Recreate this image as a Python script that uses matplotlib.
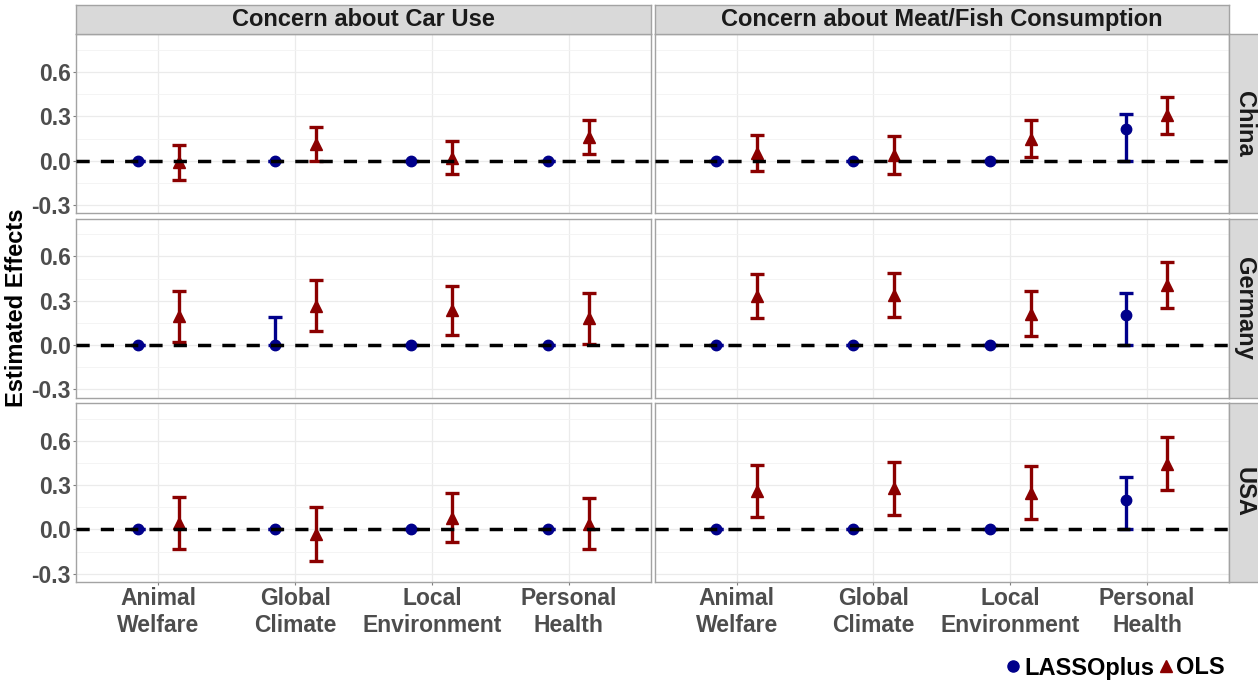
import numpy as np
import matplotlib
matplotlib.use("Agg")
import matplotlib.pyplot as plt
from matplotlib.lines import Line2D

# facet labels and categories
categories = ["Animal\nWelfare", "Global\nClimate", "Local\nEnvironment", "Personal\nHealth"]
countries = ["China", "Germany", "USA"]
concerns = ["Concern about Car Use", "Concern about Meat/Fish Consumption"]
y_ticks = [-0.3, 0.0, 0.3, 0.6]
y_tick_labels = ["-0.3", "0.0", "0.3", "0.6"]

# OLS estimates, rows = China, Germany, USA
ols_car_est = [[-0.010, 0.115, 0.020, 0.160],
               [0.195, 0.265, 0.235, 0.180],
               [0.044, -0.034, 0.080, 0.037]]
ols_car_lo = [[-0.130, 0.000, -0.092, 0.049],
              [0.020, 0.092, 0.067, 0.007],
              [-0.131, -0.217, -0.088, -0.135]]
ols_car_hi = [[0.108, 0.227, 0.133, 0.276],
              [0.369, 0.438, 0.402, 0.353],
              [0.219, 0.149, 0.248, 0.210]]

ols_meat_est = [[0.050, 0.040, 0.150, 0.310],
                [0.330, 0.338, 0.210, 0.405],
                [0.257, 0.277, 0.248, 0.445]]
ols_meat_lo = [[-0.072, -0.088, 0.025, 0.184],
               [0.182, 0.191, 0.061, 0.252],
               [0.081, 0.097, 0.068, 0.264]]
ols_meat_hi = [[0.173, 0.169, 0.274, 0.431],
               [0.479, 0.485, 0.364, 0.560],
               [0.433, 0.458, 0.429, 0.625]]

# LASSOplus estimates (lower bound is zero everywhere)
lasso_car_est = [[0.0, 0.0, 0.0, 0.0],
                 [0.0, 0.0, 0.0, 0.0],
                 [0.0, 0.0, 0.0, 0.0]]
lasso_car_lo = [[0.0, 0.0, 0.0, 0.0],
                [0.0, 0.0, 0.0, 0.0],
                [0.0, 0.0, 0.0, 0.0]]
lasso_car_hi = [[0.0, 0.0, 0.0, 0.0],
                [0.0, 0.189, 0.0, 0.0],
                [0.0, 0.0, 0.0, 0.0]]

lasso_meat_est = [[0.0, 0.0, 0.0, 0.216],
                  [0.0, 0.0, 0.0, 0.205],
                  [0.0, 0.0, 0.0, 0.201]]
lasso_meat_lo = [[0.0, 0.0, 0.0, 0.0],
                 [0.0, 0.0, 0.0, 0.0],
                 [0.0, 0.0, 0.0, 0.0]]
lasso_meat_hi = [[0.0, 0.0, 0.0, 0.315],
                 [0.0, 0.0, 0.0, 0.353],
                 [0.0, 0.0, 0.0, 0.352]]

ols = [(ols_car_est, ols_car_lo, ols_car_hi), (ols_meat_est, ols_meat_lo, ols_meat_hi)]
lasso = [(lasso_car_est, lasso_car_lo, lasso_car_hi), (lasso_meat_est, lasso_meat_lo, lasso_meat_hi)]

plt.rcParams['font.family'] = ['Liberation Sans', 'DejaVu Sans']
plt.rcParams['font.weight'] = 'bold'

BLUE = "#00008B"
RED = "#8B0000"
BORDER = "#A3A3A3"
STRIP = "#D9D9D9"

W, H = 1258, 686
fig = plt.figure(figsize=(W / 100, H / 100), dpi=100)


def box(x0, y0, x1, y1):
    return [x0 / W, 1 - y1 / H, (x1 - x0) / W, (y1 - y0) / H]


col_x = [(76.3, 650.7), (654.6, 1229.0)]
row_y = [(34.3, 213.2), (218.6, 397.5), (402.9, 581.8)]
dodge = 0.15
x = np.arange(1, len(categories) + 1)


def draw_bars(ax, xs, est, lo, hi, marker, color, ms):
    est = np.asarray(est)
    err = [est - np.asarray(lo), np.asarray(hi) - est]
    ax.errorbar(xs, est, yerr=err, fmt=marker, color=color, ms=ms,
                elinewidth=2.4, capsize=4.8, capthick=2.4, zorder=3)


for r, country in enumerate(countries):
    for c, concern in enumerate(concerns):
        ax = fig.add_axes(box(col_x[c][0], row_y[r][0], col_x[c][1], row_y[r][1]))
        ax.set_xlim(0.4, 4.6)
        ax.set_ylim(-0.355, 0.856)
        ax.set_xticks(x)
        ax.set_xticklabels(categories)
        ax.set_yticks(y_ticks)
        ax.set_yticklabels(y_tick_labels)
        ax.set_yticks([-0.15, 0.15, 0.45, 0.75], minor=True)
        ax.grid(which="major", color="#EBEBEB", lw=0.9)
        ax.grid(which="minor", axis="y", color="#F3F3F3", lw=0.6)
        ax.set_axisbelow(True)

        est, lo, hi = lasso[c]
        draw_bars(ax, x - dodge, est[r], lo[r], hi[r], "o", BLUE, 7.5)
        est, lo, hi = ols[c]
        draw_bars(ax, x + dodge, est[r], lo[r], hi[r], "^", RED, 9)

        ax.axhline(0, color="black", lw=2.5, ls=(0, (3.8, 3.2)), zorder=4)

        for s in ax.spines.values():
            s.set_color(BORDER)
            s.set_linewidth(1.0)
        ax.tick_params(which="major", length=2.5, width=0.8, color="#7F7F7F",
                       labelsize=16.5, labelcolor="#4D4D4D", pad=1.5)
        ax.tick_params(which="minor", length=0)
        if c > 0:
            ax.tick_params(left=False, labelleft=False)
        if r < len(countries) - 1:
            ax.tick_params(bottom=False, labelbottom=False)

# column strips
for c, concern in enumerate(concerns):
    sax = fig.add_axes(box(col_x[c][0], 5.0, col_x[c][1], 34.3))
    sax.set_facecolor(STRIP)
    sax.set_xticks([])
    sax.set_yticks([])
    for s in sax.spines.values():
        s.set_color(BORDER)
        s.set_linewidth(1.0)
    sax.text(0.5, 0.5, concern, ha="center", va="center", fontsize=17,
             color="#1A1A1A", transform=sax.transAxes)

# row strips
for r, country in enumerate(countries):
    sax = fig.add_axes(box(1229.0, row_y[r][0], 1260.0, row_y[r][1]))
    sax.set_facecolor(STRIP)
    sax.set_xticks([])
    sax.set_yticks([])
    for s in sax.spines.values():
        s.set_color(BORDER)
        s.set_linewidth(1.0)
    sax.text(0.5, 0.5, country, ha="center", va="center", fontsize=17,
             rotation=-90, color="#1A1A1A", transform=sax.transAxes)

fig.text(17 / W, 1 - 308 / H, "Estimated Effects", rotation=90,
         ha="center", va="center", fontsize=17, color="black")

handles = [Line2D([], [], marker="o", color=BLUE, ls="none", ms=8),
           Line2D([], [], marker="^", color=RED, ls="none", ms=9)]
fig.legend(handles, ["LASSOplus", "OLS"], ncol=2, loc="center right",
           bbox_to_anchor=(1225 / W, 1 - 668 / H), frameon=False, fontsize=17,
           handlelength=0.6, handletextpad=0.15, columnspacing=0.2,
           borderpad=0, borderaxespad=0)

fig.savefig("out.png", dpi=100)
